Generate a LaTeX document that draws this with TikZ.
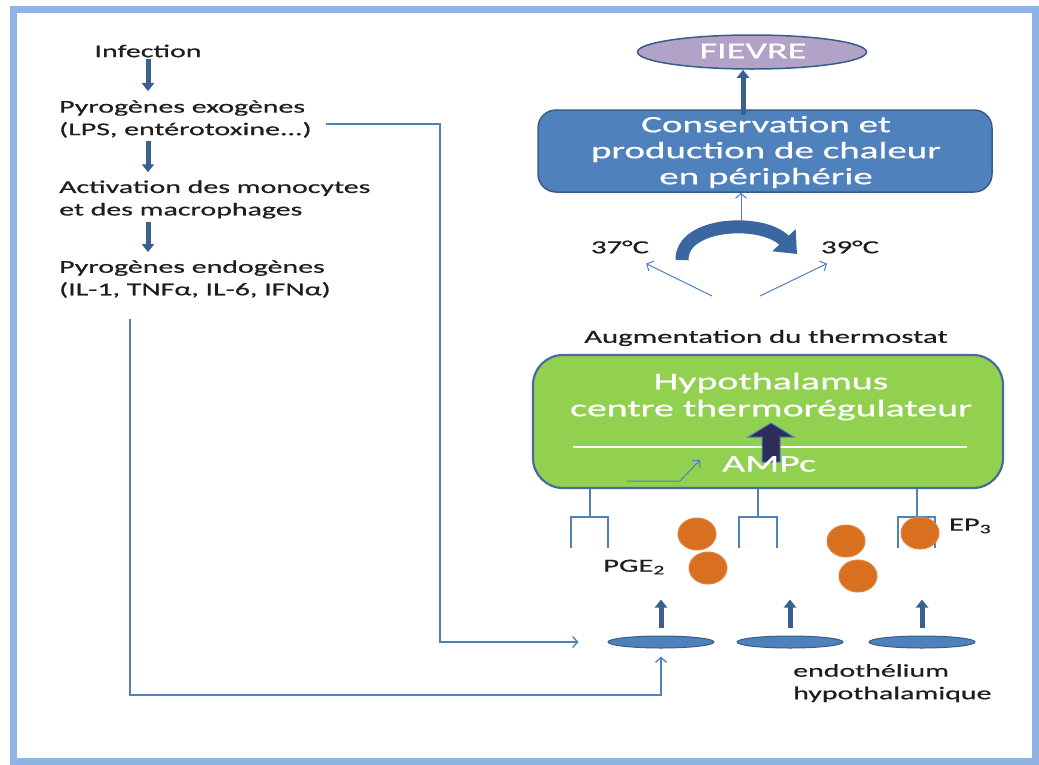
\documentclass[tikz,border=0pt]{standalone}
\usepackage{fontspec}
\setmainfont[FakeStretch=1.66,FakeBold=0.6]{Carlito}
\usetikzlibrary{arrows.meta,shapes.geometric,calc}
\definecolor{frameblue}{HTML}{8DB4E2}
\definecolor{boxblue}{HTML}{4F81BD}
\definecolor{edgeblue}{HTML}{385D8A}
\definecolor{thkblue}{HTML}{3B5F8F}
\definecolor{lav}{HTML}{B3A2C7}
\definecolor{grn}{HTML}{92D050}
\definecolor{grnedge}{HTML}{4A6B99}
\definecolor{orng}{HTML}{D8701F}
\definecolor{navy}{HTML}{2E2D5A}
\definecolor{txt}{HTML}{1E1E1E}
\definecolor{curv}{HTML}{3A67A0}
\tikzset{
  lt/.style={text=txt,inner sep=2pt,font=\fontsize{18}{22.5}\selectfont,align=left},
  rt/.style={text=txt,inner sep=2pt,font=\fontsize{18.5}{22}\selectfont},
  wt/.style={text=white,inner sep=0pt,align=center},
  thk/.style={draw=thkblue,line width=5pt,-{Triangle[length=8pt,width=12pt]}},
  conn/.style={draw=boxblue,line width=1.3pt,-{Straight Barb[length=5pt,width=11pt]}},
  recep/.style={draw=boxblue,line width=1.6pt},
  dot/.style={ellipse,fill=orng,draw=orng!85!white,line width=1pt,minimum width=38pt,minimum height=32pt,inner sep=0pt},
  endo/.style={ellipse,fill=boxblue,draw=edgeblue,line width=1pt,minimum width=106pt,minimum height=12pt,inner sep=0pt}
}
\begin{document}
\begin{tikzpicture}[x=1pt,y=-1pt]
\useasboundingbox (0,0) rectangle (1039,764);
\fill[white] (0,0) rectangle (1039,764);
\draw[frameblue,line width=7pt] (13.5,9) rectangle (1035.5,761);

% left column
\node[lt] (inf) at (148,51) {Infection};
\node[lt,anchor=west] (exo) at (57,119) {Pyrogènes exogènes\\(LPS, entérotoxine...)};
\node[lt,anchor=west] (act) at (57,199.5) {Activation des monocytes\\et des macrophages};
\node[lt,anchor=west] (endg) at (57,279) {Pyrogènes endogènes\\(IL-1, TNFα, IL-6, IFNα)};
\draw[thk,shorten >=7pt] (inf.south) -- (inf.south |- exo.north);
\draw[thk,shorten <=1pt,shorten >=6pt] (inf.south |- exo.south) -- (inf.south |- act.north);
\draw[thk,shorten <=1pt,shorten >=6pt] (inf.south |- act.south) -- (inf.south |- endg.north);

% endothelium
\node[endo] (e1) at (661,642) {};
\node[endo] (e2) at (790,642) {};
\node[endo] (e3) at (922,642) {};
\draw[thk] ([yshift=8pt]e1.north) -- ++(0,-28);
\draw[thk] ([yshift=8pt]e2.north) -- ++(0,-28);
\draw[thk] ([yshift=8pt]e3.north) -- ++(0,-28);
\node[lt,anchor=north west] (endolab) at (791,662) {endothélium\\hypothalamique};

% connectors from left
\coordinate (vx) at (440,124);
\draw[conn] ([shift={(12pt,-5pt)}]exo.east) -- (vx) |- ([xshift=-29pt]e1.west);
\coordinate (bx) at (130,695);
\draw[conn] ([shift={(73pt,-19pt)}]endg.south west) -- (bx) -| ([yshift=-8pt]e1.south);

% FIEVRE
\node[ellipse,fill=lav,draw=edgeblue,line width=1.5pt,minimum width=229pt,minimum height=34pt,inner sep=0pt] (fiev) at (752,52) {};
\node[wt,font=\fontsize{23}{26}\selectfont] (fievt) at (753,51) {FIEVRE};

% Conservation box
\node[fill=boxblue,draw=edgeblue,line width=1.5pt,rounded corners=18pt,minimum width=454pt,minimum height=82pt,inner sep=0pt] (cons) at (765,151) {};
\node[wt,font=\fontsize{23.5}{26}\selectfont] (const) at (766,152) {Conservation et\\production de chaleur\\en périphérie};
\coordinate (xa) at (743,0);
\coordinate (xb) at (741,221);
\draw[thk] ([yshift=-6pt]cons.north -| xa) -- (fiev.south -| xa);
\draw[conn,line width=1pt] (xb) -- (cons.south -| xb);

% temperatures
\node[rt] (t37) at (620,247) {37°C};
\node[rt] (t39) at (850,247) {39°C};
\draw[curv,line width=13pt,-{Triangle[length=19pt,width=31pt]}] (682,260) .. controls (681,222) and (763,218) .. (797,254);
\coordinate (aug) at (735,296);
\draw[conn,line width=1pt] ([xshift=-23pt]aug) -- ([shift={(-5pt,-8pt)}]t37.south east);
\draw[conn,line width=1pt] ([xshift=25pt]aug) -- ([shift={(-23pt,-8pt)}]t39.south);
\node[rt] (augt) at (766,338) {Augmentation du thermostat};

% Hypothalamus box
\node[fill=grn,draw=grnedge,line width=2.2pt,rounded corners=30pt,minimum width=470pt,minimum height=133pt,inner sep=0pt] (hypo) at (768,421.5) {};
\node[wt,font=\fontsize{24}{27}\selectfont] (hypt) at (771,396.5) {Hypothalamus\\centre thermorégulateur};
\draw[white,line width=2pt] (573,447) -- (967,447);
\draw[fill=navy,draw=boxblue,line width=1pt] (762,462) -- (762,437) -- (748,437) -- (771,423) -- (794,437) -- (780,437) -- (780,462) -- cycle;
\node[wt,font=\fontsize{24}{27}\selectfont] (ampc) at (769,464) {AMPc};
\coordinate (sa) at (627,481);
\draw[conn,line width=1pt] (sa) -- ++(53,0) -- ([shift={(-22pt,4pt)}]ampc.west);

% receptors
\draw[recep] (590,489) -- (590,517) (571,548) -- (571,517) -- (608,517) -- (608,548);
\draw[recep] (758,489) -- (758,517) (739,548) -- (739,517) -- (777,517) -- (777,548);
\draw[recep] (917,489) -- (917,517) (898,548) -- (898,517) -- (935,517) -- (935,548);

% PGE2 dots
\node[dot] (d1) at (697,534) {};
\node[dot] (d2) at (708,568) {};
\node[dot] (d3) at (846,541) {};
\node[dot] (d4) at (858,576) {};
\node[dot] (d5) at (920,533) {};
\node[rt] (pge) at (634,567) {PGE\textsubscript{2}};
\node[rt] (ep) at (970,526) {EP\textsubscript{3}};
\end{tikzpicture}
\end{document}
